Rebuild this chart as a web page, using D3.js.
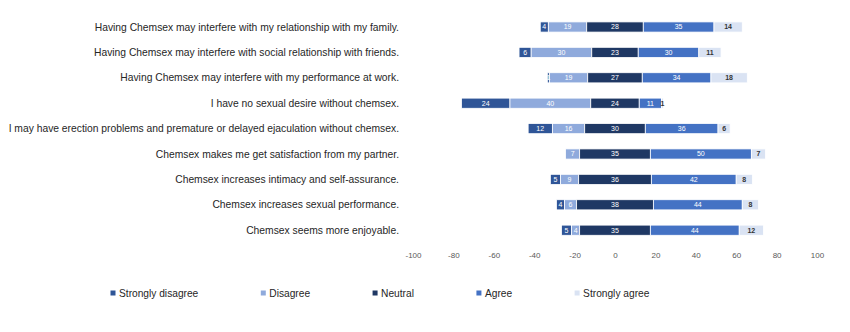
<!DOCTYPE html>
<html>
<head>
<meta charset="utf-8">
<script src="https://cdn.jsdelivr.net/npm/d3@7"></script>
<style>
  body { margin: 0; background: #fff; }
  svg { display: block; font-family: "Liberation Sans", Arial, sans-serif; }
</style>
</head>
<body>
<div id="chart"></div>
<script>
// statements, top to bottom
const statements = [
  "Having Chemsex may interfere with my relationship with my family.",
  "Having Chemsex may interfere with social relationship with friends.",
  "Having Chemsex may interfere with my performance at work.",
  "I have no sexual desire without chemsex.",
  "I may have erection problems and premature or delayed ejaculation without chemsex.",
  "Chemsex makes me get satisfaction from my partner.",
  "Chemsex increases intimacy and self-assurance.",
  "Chemsex increases sexual performance.",
  "Chemsex seems more enjoyable."
];
const levels = ["Strongly disagree", "Disagree", "Neutral", "Agree", "Strongly agree"];
const colors = ["#2f5597", "#8faadc", "#1f3864", "#4472c4", "#dae3f3"];

// percentages per level, same order as statements
const stronglyDisagree = [4, 6, 1, 24, 12, 0, 5, 4, 5];
const disagree         = [19, 30, 19, 40, 16, 7, 9, 6, 4];
const neutral          = [28, 23, 27, 24, 30, 35, 36, 38, 35];
const agree            = [35, 30, 34, 11, 36, 50, 42, 44, 44];
const stronglyAgree    = [14, 11, 18, 1, 6, 7, 8, 8, 12];

const ticks = [-100, -80, -60, -40, -20, 0, 20, 40, 60, 80, 100];

const series = [stronglyDisagree, disagree, neutral, agree, stronglyAgree];

const width = 850, height = 332;
const svg = d3.select("#chart").append("svg")
  .attr("width", width)
  .attr("height", height);

const x = d3.scaleLinear().domain([-100, 100]).range([413, 817]);
const y = d3.scaleBand().domain(statements).range([14.3, 242.9]).paddingInner(0.6).paddingOuter(0.3);

// build segments: bars are centred on the middle of the neutral block
const segments = [];
statements.forEach((s, i) => {
  let start = -(stronglyDisagree[i] + disagree[i] + neutral[i] / 2);
  series.forEach((arr, k) => {
    const v = arr[i];
    segments.push({ s, k, v, x0: start, x1: start + v });
    start += v;
  });
});

const g = svg.append("g");

g.selectAll("rect")
  .data(segments.filter(d => d.v > 0))
  .join("rect")
  .attr("x", d => x(d.x0))
  .attr("width", d => x(d.x1) - x(d.x0))
  .attr("y", d => y(d.s))
  .attr("height", y.bandwidth())
  .attr("fill", d => colors[d.k])
  .attr("stroke", "#fff")
  .attr("stroke-width", 0.8);

g.selectAll("text.val")
  .data(segments.filter(d => d.v > 0))
  .join("text")
  .attr("class", "val")
  .attr("x", d => x((d.x0 + d.x1) / 2))
  .attr("y", d => y(d.s) + y.bandwidth() / 2)
  .attr("dy", "0.35em")
  .attr("text-anchor", "middle")
  .attr("font-size", 7)
  .attr("font-weight", d => d.k === 4 ? "bold" : "normal")
  .attr("fill", d => d.k === 4 ? "#333" : "#fff")
  .text(d => d.v);

// category labels
svg.append("g").selectAll("text")
  .data(statements)
  .join("text")
  .attr("x", 399)
  .attr("y", d => y(d) + y.bandwidth() / 2)
  .attr("dy", "0.35em")
  .attr("text-anchor", "end")
  .attr("font-size", 10.3)
  .attr("fill", "#262626")
  .text(d => d);

// x axis labels (no line)
const axis = svg.append("g")
  .attr("transform", "translate(0,250)")
  .call(d3.axisBottom(x).tickValues(ticks).tickFormat(d => String(d)).tickSize(0).tickPadding(2));
axis.select(".domain").remove();
axis.selectAll("text")
  .attr("font-size", 8)
  .attr("font-family", "Liberation Sans, Arial, sans-serif")
  .attr("fill", "#595959");

// legend
const legend = svg.append("g").attr("transform", "translate(0,293)");
let lx = 113;
levels.forEach((name, k) => {
  legend.append("rect")
    .attr("x", lx - 2.5).attr("y", -2.5)
    .attr("width", 5).attr("height", 5)
    .attr("fill", colors[k]);
  const t = legend.append("text")
    .attr("x", lx + 6)
    .attr("dy", "0.35em")
    .attr("font-size", 10.2)
    .attr("fill", "#262626")
    .text(name);
  lx += 6 + t.node().getComputedTextLength() + 65;
});
</script>
</body>
</html>
